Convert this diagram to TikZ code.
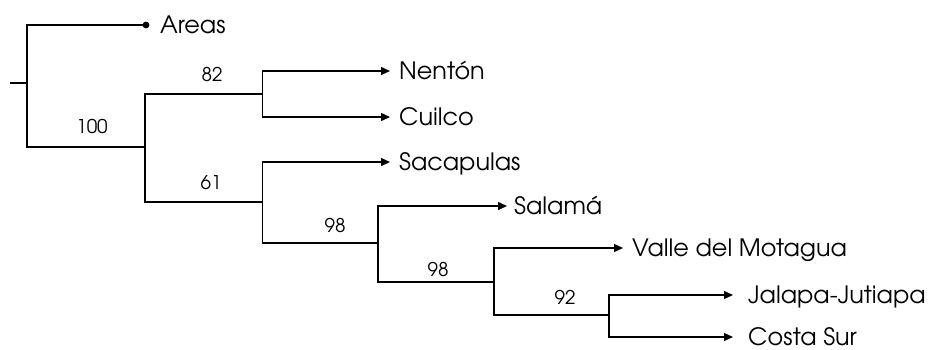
\documentclass[tikz,border=0pt]{standalone}
\usepackage{fontspec}
\setmainfont{texgyreadventor-regular.otf}
\usetikzlibrary{arrows.meta}
\begin{document}
\begin{tikzpicture}[x=1bp,y=-1bp,
  edge/.style={line width=1.4bp,line join=miter},
  tipedge/.style={edge,-{Triangle[length=9bp,width=8bp]}},
  leaf/.style={anchor=west,inner xsep=9bp,inner ysep=0pt,font=\fontsize{24}{24}\selectfont,text height=17.8bp,text depth=0pt},
  support/.style={font=\fontsize{19}{19}\selectfont,inner sep=0pt}]
\useasboundingbox (0,0) rectangle (930,349);
% internal nodes
\coordinate (rs) at (10,83);
\coordinate (r) at (27,83);
\coordinate (nB) at (145,147);
\coordinate (nC) at (262.5,94);
\coordinate (nD) at (262.5,202);
\coordinate (nE) at (378,243);
\coordinate (nF) at (494,282);
\coordinate (nG) at (609,315);
% leaves
\node[leaf,inner xsep=14bp] (areas) at (146,25) {Areas};
\node[leaf] (nenton) at (390,71) {Nentón};
\node[leaf] (cuilco) at (390,117) {Cuilco};
\node[leaf] (sacapulas) at (390,162) {Sacapulas};
\node[leaf,inner xsep=7bp] (salama) at (507,206) {Salamá};
\node[leaf] (valle) at (623,248) {Valle del Motagua};
\node[leaf,inner xsep=15bp] (jalapa) at (733,295) {Jalapa-Jutiapa};
\node[leaf,inner xsep=15bp] (costa) at (733,337) {Costa Sur};
% support values
\node[support] (s100) at (92,126) {100};
\node[support] (s82) at (212,75) {82};
\node[support] (s61) at (211,183) {61};
\node[support] (s98a) at (335,225) {98};
\node[support] (s98b) at (438,269) {98};
\node[support] (s92) at (565,297) {92};
% edges
\draw[edge] (rs) -- (r);
\draw[edge] (r) |- (areas.west);
\fill (areas.west) circle (3.4bp);
\draw[edge] (r) |- (nB);
\draw[edge] (nB) |- (nC);
\draw[edge] (nB) |- (nD);
\draw[tipedge] (nC) |- (nenton.west);
\draw[tipedge] (nC) |- (cuilco.west);
\draw[tipedge] (nD) |- (sacapulas.west);
\draw[edge] (nD) |- (nE);
\draw[tipedge] (nE) |- (salama.west);
\draw[edge] (nE) |- (nF);
\draw[tipedge] (nF) |- (valle.west);
\draw[edge] (nF) |- (nG);
\draw[tipedge] (nG) |- (jalapa.west);
\draw[tipedge] (nG) |- (costa.west);
\end{tikzpicture}
\end{document}
